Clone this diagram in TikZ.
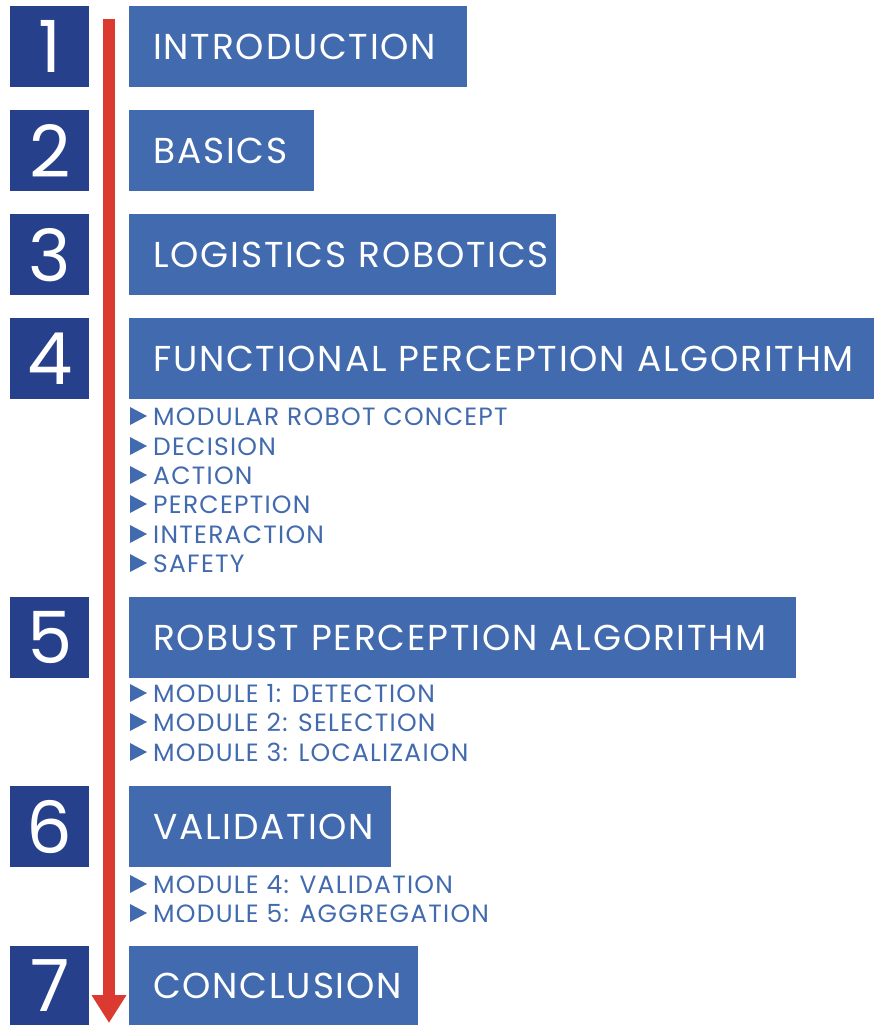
\documentclass[tikz,border=0pt]{standalone}
\usepackage{fontspec}
\setmainfont{Poppins}
\newfontfamily\widefont[LetterSpace=5]{Poppins}
\usetikzlibrary{arrows.meta}
\definecolor{numblue}{RGB}{38,64,139}
\definecolor{titleblue}{RGB}{66,106,174}
\definecolor{arrowred}{RGB}{219,58,48}
\tikzset{
  numbox/.style={fill=numblue, text=white, minimum width=79pt, minimum height=81pt,
    inner sep=0pt, anchor=north west, font=\fontsize{72}{72}\selectfont},
  titlebox/.style={fill=titleblue, text=white, minimum height=81pt, inner sep=0pt,
    anchor=north west, align=left, text width=#1,
    font=\widefont\fontsize{36}{36}\selectfont,
    execute at begin node=\hspace*{24pt}},
  subitem/.style={text=titleblue, inner sep=0pt, anchor=base west,
    font=\widefont\fontsize{25}{25}\selectfont},
  bullettri/.style={fill=titleblue},
}
\begin{document}
\begin{tikzpicture}[x=1pt,y=-1pt]
\useasboundingbox (0,0) rectangle (874,1025);

% chapter numbers
\node[numbox] (n1) at (10,6)   {1};
\node[numbox] (n2) at (10,110) {2};
\node[numbox] (n3) at (10,214) {3};
\node[numbox] (n4) at (10,318) {4};
\node[numbox] (n5) at (10,597) {5};
\node[numbox] (n6) at (10,786) {6};
\node[numbox, minimum height=79pt] (n7) at (10,946) {7};

% chapter titles
\node[titlebox=338pt] (t1) at (129,6)   {INTRODUCTION};
\node[titlebox=185pt] (t2) at (129,110) {BASICS};
\node[titlebox=427pt] (t3) at (129,214) {LOGISTICS ROBOTICS};
\node[titlebox=745pt] (t4) at (129,318) {FUNCTIONAL PERCEPTION ALGORITHM};
\node[titlebox=667pt] (t5) at (129,597) {ROBUST PERCEPTION ALGORITHM};
\node[titlebox=262pt] (t6) at (129,786) {VALIDATION};
\node[titlebox=289pt, minimum height=79pt] (t7) at (129,946) {CONCLUSION};

% section lists: name / baseline / text
\foreach \nm/\yb/\txt in {
    s41/425/MODULAR ROBOT CONCEPT, s42/455/DECISION, s43/484/ACTION,
    s44/513/PERCEPTION, s45/543/INTERACTION, s46/572/SAFETY,
    s51/702/MODULE 1: DETECTION, s52/731/MODULE 2: SELECTION,
    s53/761/MODULE 3: LOCALIZAION,
    s61/893/MODULE 4: VALIDATION, s62/922/MODULE 5: AGGREGATION} {
  \fill[bullettri] (130,\yb-18) -- (147,\yb-9) -- (130,\yb) -- cycle;
  \node[subitem] (\nm) at (153,\yb) {\txt};
}

% reading direction arrow
\coordinate (arrowtop) at (109,19);
\coordinate (arrowtip) at (109,1023);
\draw[arrowred, line width=12pt, -{Triangle[width=33pt,length=28pt]}] (arrowtop) -- (arrowtip);
\end{tikzpicture}
\end{document}
